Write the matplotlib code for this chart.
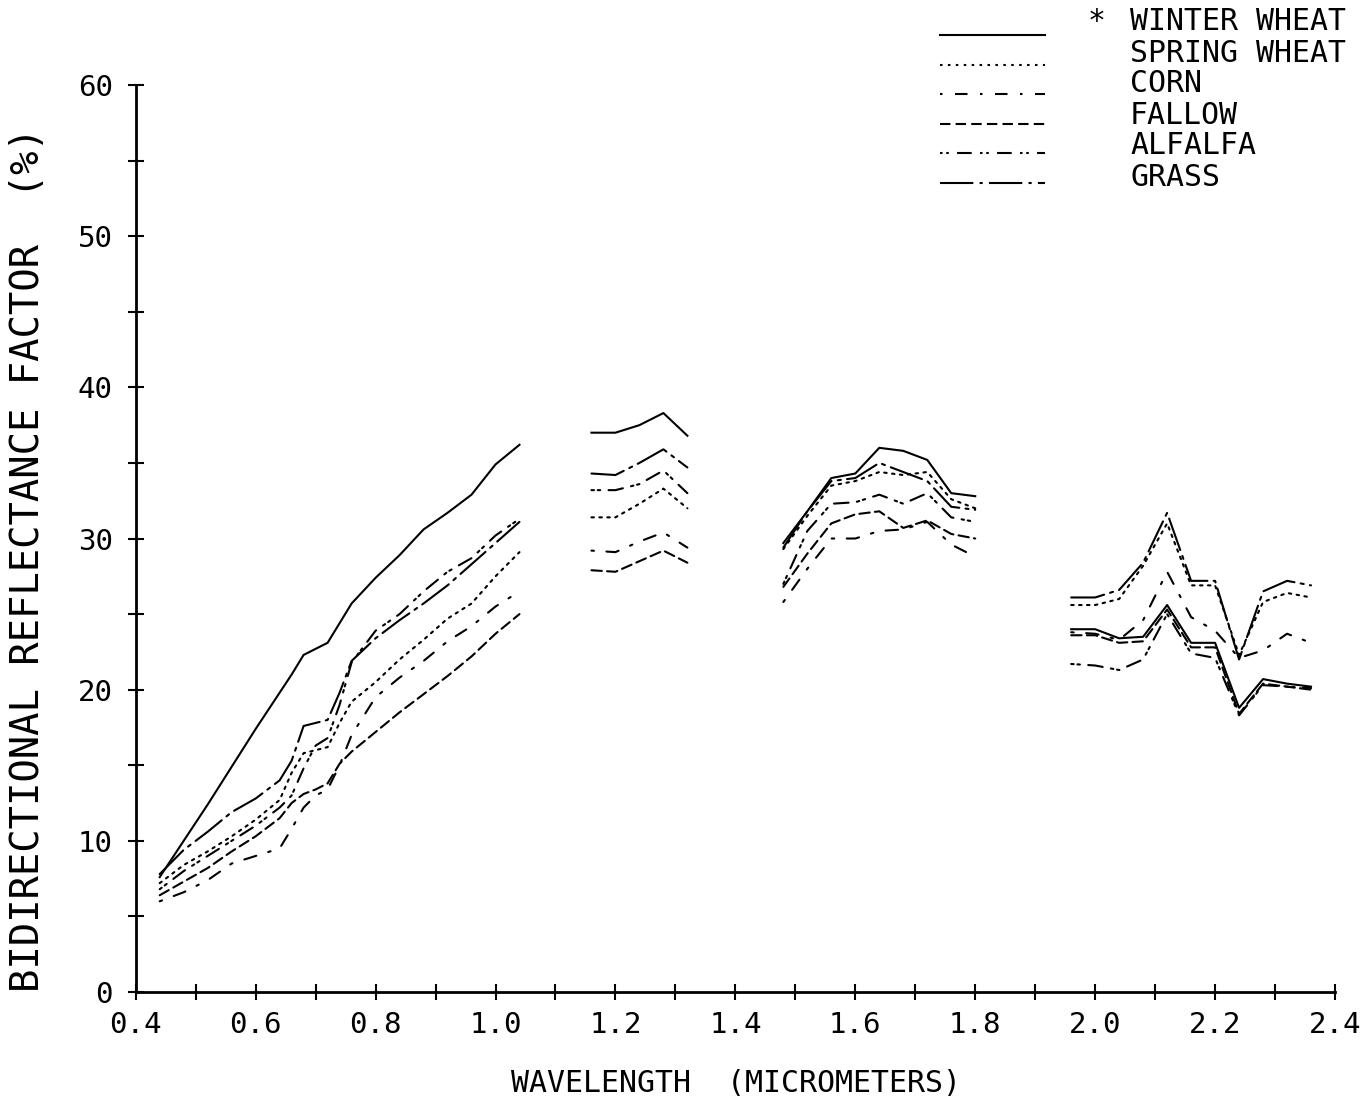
import matplotlib
matplotlib.use('Agg')
import matplotlib.pyplot as plt

plt.rcParams['font.family'] = 'DejaVu Sans Mono'

# wavelengths (micrometers) of the four measured bands
wl1 = [0.44, 0.48, 0.52, 0.56, 0.60, 0.64, 0.66, 0.68, 0.70, 0.72, 0.74, 0.76,
       0.80, 0.84, 0.88, 0.92, 0.96, 1.00, 1.04]
wl2 = [1.16, 1.20, 1.24, 1.28, 1.32]
wl3 = [1.48, 1.52, 1.56, 1.60, 1.64, 1.68, 1.72, 1.76, 1.80]
wl4 = [1.96, 2.00, 2.04, 2.08, 2.12, 2.16, 2.20, 2.24, 2.28, 2.32, 2.36]

# reflectance factor (%) per crop, one list per band
winter_wheat = [
    [7.6, 10.0, 12.4, 14.9, 17.4, 19.8, 21.0, 22.3, 22.7, 23.1, 24.4, 25.7, 27.4, 28.9, 30.6, 31.7, 32.9, 34.9, 36.2],
    [37.0, 37.0, 37.5, 38.3, 36.8],
    [29.7, 31.8, 34.0, 34.3, 36.0, 35.8, 35.2, 33.0, 32.8],
    [24.0, 24.0, 23.4, 23.5, 25.6, 23.1, 23.1, 18.8, 20.7, 20.4, 20.2],
]
spring_wheat = [
    [7.2, 8.4, 9.3, 10.3, 11.4, 12.7, 14.5, 15.8, 16.0, 16.2, 17.8, 19.2, 20.5, 22.0, 23.3, 24.7, 25.7, 27.5, 29.1],
    [31.4, 31.4, 32.3, 33.3, 32.0],
    [29.3, 31.5, 33.5, 33.8, 34.4, 34.2, 34.4, 32.6, 32.0],
    [25.6, 25.6, 26.0, 28.2, 31.0, 26.9, 26.9, 22.3, 25.8, 26.4, 26.1],
]
corn = [
    [6.0, 6.6, 7.4, 8.5, 9.0, 9.5, 10.8, 12.2, 13.0, 13.4, 15.0, 17.0, 19.5, 20.8, 21.9, 23.2, 24.2, 25.5, 26.5],
    [29.2, 29.1, 29.8, 30.4, 29.4],
    [25.8, 28.0, 30.0, 30.0, 30.5, 30.6, 31.1, 29.6, 28.8],
    [23.8, 23.7, 23.3, 24.6, 27.8, 24.8, 23.9, 22.1, 22.6, 23.7, 23.1],
]
fallow = [
    [6.4, 7.3, 8.2, 9.3, 10.3, 11.5, 12.5, 13.1, 13.4, 13.8, 15.1, 15.9, 17.2, 18.5, 19.7, 20.9, 22.2, 23.7, 25.0],
    [27.9, 27.8, 28.5, 29.2, 28.4],
    [26.8, 29.0, 31.0, 31.6, 31.8, 30.7, 31.2, 30.3, 30.0],
    [23.6, 23.6, 23.1, 23.2, 25.3, 22.8, 22.8, 18.4, 20.4, 20.2, 20.0],
]
alfalfa = [
    [6.8, 8.0, 9.0, 10.0, 11.0, 12.2, 13.0, 14.8, 16.3, 16.8, 19.0, 21.8, 23.9, 25.0, 26.5, 27.8, 28.7, 30.2, 31.3],
    [33.2, 33.2, 33.6, 34.5, 33.0],
    [27.0, 30.5, 32.3, 32.4, 32.9, 32.3, 33.0, 31.4, 31.1],
    [21.7, 21.6, 21.3, 22.0, 25.0, 22.4, 22.1, 18.3, 20.3, 20.2, 20.1],
]
grass = [
    [7.8, 9.4, 10.6, 11.9, 12.8, 14.0, 15.3, 17.6, 17.8, 18.0, 19.8, 21.9, 23.4, 24.6, 25.7, 26.9, 28.3, 29.7, 31.1],
    [34.3, 34.2, 35.0, 35.9, 34.7],
    [29.4, 31.8, 33.8, 34.0, 35.0, 34.4, 33.8, 32.1, 31.9],
    [26.1, 26.1, 26.6, 28.4, 31.7, 27.2, 27.2, 22.0, 26.5, 27.2, 26.9],
]

names = ['WINTER WHEAT', 'SPRING WHEAT', 'CORN', 'FALLOW', 'ALFALFA', 'GRASS']
crops = [winter_wheat, spring_wheat, corn, fallow, alfalfa, grass]
bands = [wl1, wl2, wl3, wl4]

# plotter line patterns
styles = ['-', (0, (1.2, 2.6)), (0, (1.2, 6, 6, 6)), (0, (5, 2.5)),
          (0, (1.2, 1.8, 1.2, 4, 7, 4)), (0, (16, 3, 1.5, 3))]

fig = plt.figure(figsize=(13.68, 10.97), dpi=100)
ax = fig.add_axes([0.0992, 0.0957, 0.8767, 0.8268])

for crop, ls in zip(crops, styles):
    for wl, vals in zip(bands, crop):
        ax.plot(wl, vals, color='black', lw=1.5, linestyle=ls,
                dash_capstyle='round')

ax.set_xlim(0.4, 2.4)
ax.set_ylim(0, 60)
ax.set_xticks([0.4 + 0.1 * i for i in range(21)])
ax.set_xticklabels(['%.1f' % (0.4 + 0.1 * i) if i % 2 == 0 else '' for i in range(21)])
ax.set_yticks(range(0, 61, 5))
ax.set_yticklabels([str(v) if v % 10 == 0 else '' for v in range(0, 61, 5)])
ax.tick_params(direction='inout', length=11, width=1.5, labelsize=21, color='black')
ax.tick_params(axis='x', pad=8)
ax.tick_params(axis='y', pad=11)
for s in ['top', 'right']:
    ax.spines[s].set_visible(False)
for s in ['left', 'bottom']:
    ax.spines[s].set_linewidth(2)

fig.text(736 / 1368, 1 - 1083 / 1097, 'WAVELENGTH  (MICROMETERS)', fontsize=21.5,
         ha='center', va='center')
fig.text(28 / 1368, 1 - 560 / 1097, 'BIDIRECTIONAL REFLECTANCE FACTOR  (%)',
         fontsize=28, rotation=90, ha='center', va='center')

# legend drawn like the plotter key
for i, (name, ls) in enumerate(zip(names, styles)):
    ly = 1 - (35 + 29.6 * i) / 1097
    ty = 1 - (22 + 31 * i) / 1097
    fig.add_artist(plt.Line2D([940 / 1368, 1045 / 1368], [ly, ly], color='black',
                              lw=1.5, linestyle=ls, transform=fig.transFigure))
    fig.text(1130 / 1368, ty, name, fontsize=21.5, ha='left', va='center')
fig.text(1097 / 1368, 1 - 22 / 1097, '*', fontsize=21.5, ha='center', va='center')

fig.savefig('out.png', dpi=100)
